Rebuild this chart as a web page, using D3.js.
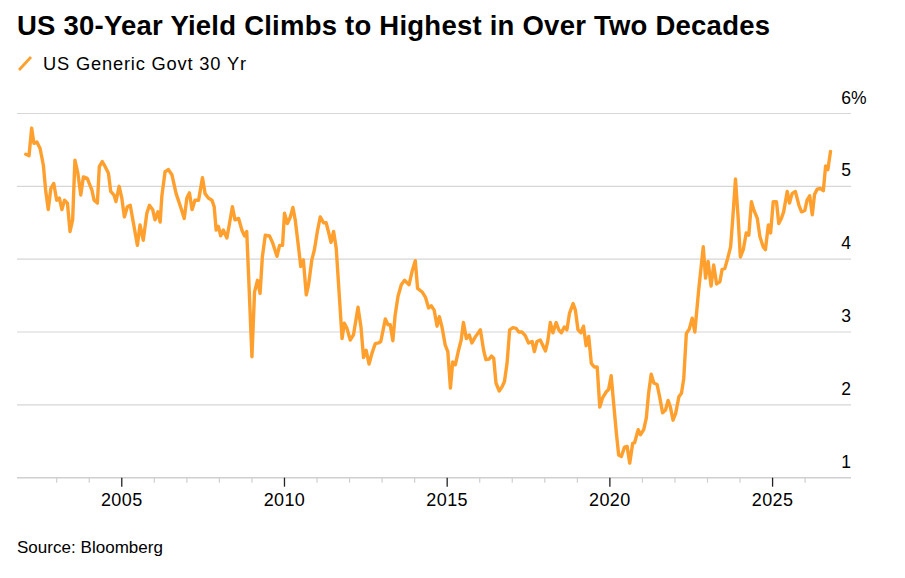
<!DOCTYPE html>
<html>
<head>
<meta charset="utf-8">
<script src="https://cdn.jsdelivr.net/npm/d3@7"></script>
<style>
  html, body { margin: 0; padding: 0; background: #fff; }
  svg { display: block; font-family: "Liberation Sans", Arial, Helvetica, sans-serif; }
</style>
</head>
<body>
<svg id="chart" width="905" height="578"></svg>
<script>
// ---- data ----
const title = "US 30-Year Yield Climbs to Highest in Over Two Decades";
const seriesName = "US Generic Govt 30 Yr";
const sourceText = "Source: Bloomberg";

const years = [
  2002.05,2002.15,2002.23,2002.30,2002.39,2002.49,2002.59,2002.66,2002.74,2002.82,2002.91,
  2003.00,2003.08,2003.16,2003.24,2003.33,2003.41,2003.49,2003.56,2003.65,2003.74,2003.82,2003.94,
  2004.08,2004.15,2004.25,2004.31,2004.40,2004.49,2004.59,2004.66,2004.76,2004.82,2004.92,
  2005.00,2005.08,2005.17,2005.26,2005.36,2005.48,2005.56,2005.66,2005.77,2005.85,2005.95,
  2006.02,2006.11,2006.18,2006.23,2006.33,2006.43,2006.54,2006.67,2006.79,2006.92,
  2007.00,2007.08,2007.16,2007.25,2007.36,2007.48,2007.56,2007.66,2007.77,2007.84,2007.90,2007.97,
  2008.04,2008.12,2008.23,2008.31,2008.40,2008.48,2008.59,2008.69,2008.77,2008.84,2008.92,
  2009.00,2009.08,2009.17,2009.25,2009.32,2009.41,2009.54,2009.64,2009.77,2009.85,2009.94,
  2010.00,2010.09,2010.18,2010.26,2010.33,2010.43,2010.50,2010.58,2010.67,2010.74,2010.84,2010.92,
  2011.01,2011.10,2011.20,2011.28,2011.35,2011.43,2011.51,2011.59,2011.66,2011.77,2011.84,2011.92,
  2012.02,2012.12,2012.26,2012.35,2012.43,2012.51,2012.60,2012.69,2012.79,2012.89,2012.96,
  2013.10,2013.18,2013.25,2013.33,2013.40,2013.49,2013.59,2013.69,2013.83,2013.92,
  2014.02,2014.09,2014.23,2014.33,2014.43,2014.51,2014.60,2014.69,2014.76,2014.84,2014.94,
  2015.02,2015.10,2015.17,2015.25,2015.35,2015.43,2015.50,2015.59,2015.68,2015.76,2015.86,
  2016.02,2016.12,2016.19,2016.29,2016.36,2016.43,2016.50,2016.60,2016.69,2016.76,2016.84,2016.92,
  2017.02,2017.12,2017.20,2017.30,2017.40,2017.50,2017.61,2017.68,2017.76,2017.86,
  2018.02,2018.09,2018.17,2018.25,2018.35,2018.43,2018.51,2018.60,2018.68,2018.76,2018.87,2018.94,
  2019.02,2019.11,2019.19,2019.27,2019.35,2019.43,2019.52,2019.61,2019.69,2019.78,2019.89,2019.96,
  2020.04,2020.12,2020.20,2020.27,2020.35,2020.45,2020.53,2020.61,2020.70,2020.76,2020.87,2020.94,
  2021.04,2021.12,2021.19,2021.27,2021.35,2021.45,2021.53,2021.62,2021.71,2021.79,2021.86,2021.94,
  2022.02,2022.12,2022.20,2022.27,2022.35,2022.44,2022.53,2022.61,2022.73,2022.87,2022.94,
  2023.02,2023.11,2023.19,2023.28,2023.38,2023.45,2023.53,2023.62,2023.71,2023.78,2023.86,2023.94,
  2024.01,2024.10,2024.19,2024.27,2024.35,2024.42,2024.53,2024.61,2024.71,2024.78,2024.87,2024.94,
  2025.02,2025.12,2025.19,2025.27,2025.34,2025.45,2025.52,2025.60,2025.70,2025.81,2025.89,2025.99,
  2026.06,2026.14,2026.22,2026.29,2026.37,2026.47,2026.56,2026.63,2026.70,2026.78
];

const yields = [
  5.44,5.42,5.80,5.59,5.61,5.52,5.29,4.95,4.68,4.97,5.04,
  4.81,4.84,4.68,4.81,4.77,4.38,4.54,5.36,5.18,4.88,5.13,5.11,
  4.95,4.81,4.77,5.27,5.34,5.27,5.18,4.93,4.88,4.79,5.00,
  4.84,4.58,4.72,4.74,4.49,4.19,4.47,4.26,4.63,4.74,4.68,
  4.54,4.65,4.51,4.86,5.20,5.23,5.16,4.90,4.74,4.56,
  4.84,4.91,4.68,4.81,4.81,5.12,4.90,4.84,4.81,4.72,4.40,4.45,
  4.32,4.40,4.29,4.49,4.72,4.54,4.56,4.40,4.32,4.38,3.53,
  2.66,3.55,3.71,3.53,4.03,4.33,4.32,4.22,4.04,4.19,4.19,
  4.63,4.49,4.58,4.71,4.54,4.17,3.90,3.99,3.51,3.65,3.99,4.13,
  4.38,4.58,4.50,4.50,4.38,4.23,4.38,4.15,3.67,2.91,3.12,3.05,
  2.89,2.96,3.34,3.07,2.65,2.75,2.56,2.71,2.84,2.85,2.87,
  3.18,3.10,3.10,2.88,3.23,3.49,3.65,3.71,3.65,3.83,
  3.98,3.60,3.55,3.48,3.33,3.36,3.30,3.08,3.21,3.07,2.82,
  2.73,2.23,2.59,2.55,2.75,2.89,3.13,2.91,2.96,2.85,2.93,
  3.03,2.75,2.62,2.63,2.67,2.64,2.30,2.19,2.25,2.32,2.57,3.03,
  3.06,3.05,3.00,3.00,2.95,2.85,2.87,2.73,2.87,2.89,
  2.74,2.87,3.13,2.99,3.13,3.03,2.99,3.07,3.03,3.26,3.39,3.30,
  3.03,2.99,3.08,2.81,2.94,2.57,2.52,2.52,1.97,2.10,2.18,2.21,
  2.40,2.00,1.61,1.31,1.29,1.42,1.43,1.20,1.47,1.48,1.66,1.59,
  1.66,1.82,2.16,2.42,2.30,2.28,2.11,1.89,1.93,2.06,1.97,1.79,
  1.88,2.11,2.16,2.36,2.98,3.04,3.19,3.00,3.58,4.17,3.74,
  3.97,3.63,3.92,3.66,3.69,3.86,3.87,4.01,4.17,4.58,5.10,4.58,
  4.03,4.13,4.36,4.33,4.79,4.68,4.56,4.31,4.17,4.13,4.47,4.36,
  4.79,4.79,4.49,4.56,4.65,4.93,4.77,4.90,4.93,4.74,4.65,4.67,
  4.81,4.87,4.61,4.89,4.96,4.97,4.94,5.28,5.23,5.48
];

const yTicks = [1, 2, 3, 4, 5, 6];
const xMajorTicks = [2005, 2010, 2015, 2020, 2025];
const xMinorTicks = [2003, 2004, 2006, 2007, 2008, 2009, 2011, 2012, 2013, 2014,
                     2016, 2017, 2018, 2019, 2021, 2022, 2023, 2024, 2026];

(function () {
  // ---- layout ----
  const plotLeft = 17, plotRight = 851, plotTop = 113.5, plotBottom = 477.7;
  const lineColor = "#ffa02e";
  const textColor = "#000";

  const svg = d3.select("#chart");

  const x = d3.scaleLinear().domain([2001.78, 2027.41]).range([plotLeft, plotRight]);
  const y = d3.scaleLinear().domain([1, 6]).range([plotBottom, plotTop]);

  function fit(sel, target) {
    const node = sel.node();
    const n = sel.text().length;
    const w = node.getComputedTextLength();
    if (n > 1) sel.attr("letter-spacing", ((target - w) / (n - 1)).toFixed(3));
  }

  // title
  const t = svg.append("text")
    .attr("x", 17).attr("y", 35)
    .attr("font-size", 27.5).attr("font-weight", "bold")
    .attr("fill", textColor).text(title);
  fit(t, 753);

  // legend
  svg.append("line")
    .attr("x1", 19).attr("y1", 70).attr("x2", 31).attr("y2", 57)
    .attr("stroke", lineColor).attr("stroke-width", 2.8);
  const lg = svg.append("text")
    .attr("x", 43).attr("y", 69.5)
    .attr("font-size", 18.3).attr("fill", textColor).text(seriesName);
  fit(lg, 203);

  // gridlines
  svg.append("g").selectAll("line")
    .data(yTicks.filter(d => d > 1))
    .join("line")
    .attr("x1", plotLeft).attr("x2", plotRight)
    .attr("y1", d => y(d)).attr("y2", d => y(d))
    .attr("stroke", "#d6d6d6").attr("stroke-width", 1.2);

  // y labels
  const yl = svg.append("g").attr("font-size", 17.5).attr("fill", textColor);
  yl.selectAll("text.num")
    .data(yTicks)
    .join("text")
    .attr("class", "num")
    .attr("x", plotRight).attr("y", d => y(d) - 10)
    .attr("text-anchor", "end")
    .text(d => d);
  yl.append("text")
    .attr("x", plotRight).attr("y", y(yTicks[yTicks.length - 1]) - 10)
    .attr("text-anchor", "start")
    .text("%");

  // x axis baseline
  svg.append("line")
    .attr("x1", plotLeft).attr("x2", plotRight)
    .attr("y1", y(1)).attr("y2", y(1))
    .attr("stroke", "#cfcfcf").attr("stroke-width", 1.5);

  // minor ticks
  svg.append("g").selectAll("line")
    .data(xMinorTicks)
    .join("line")
    .attr("x1", d => x(d)).attr("x2", d => x(d))
    .attr("y1", y(1)).attr("y2", y(1) + 5)
    .attr("stroke", "#cfcfcf").attr("stroke-width", 1.2);

  // major ticks
  svg.append("g").selectAll("line")
    .data(xMajorTicks)
    .join("line")
    .attr("x1", d => x(d)).attr("x2", d => x(d))
    .attr("y1", y(1)).attr("y2", y(1) + 9)
    .attr("stroke", "#222").attr("stroke-width", 1.3);

  svg.append("g").attr("font-size", 18).attr("fill", textColor)
    .selectAll("text")
    .data(xMajorTicks)
    .join("text")
    .attr("x", d => x(d)).attr("y", 505.5)
    .attr("text-anchor", "middle")
    .attr("letter-spacing", 0.4)
    .text(d => d);

  // series line
  const data = years.map((yr, i) => ({ yr, v: yields[i] }));
  const line = d3.line().x(d => x(d.yr)).y(d => y(d.v));
  svg.append("path")
    .datum(data)
    .attr("d", line)
    .attr("fill", "none")
    .attr("stroke", lineColor)
    .attr("stroke-width", 3.4)
    .attr("stroke-linejoin", "round")
    .attr("stroke-linecap", "round");

  // source
  const src = svg.append("text")
    .attr("x", 17).attr("y", 553)
    .attr("font-size", 17).attr("fill", textColor).text(sourceText);
  fit(src, 146);
})();
</script>
</body>
</html>
